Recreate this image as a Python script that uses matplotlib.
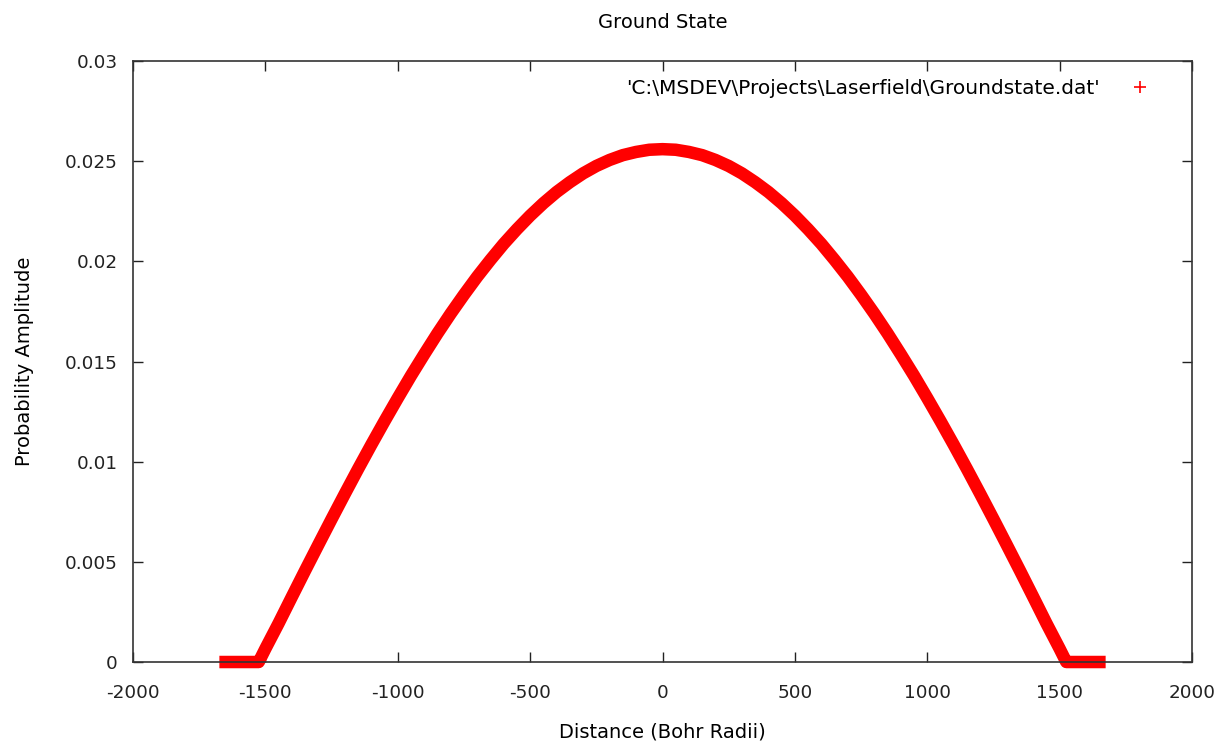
import matplotlib
matplotlib.use("Agg")
import matplotlib.pyplot as plt
from matplotlib.lines import Line2D

# Data
distance = [-1650, -1600, -1550, -1525, -1500, -1450, -1400, -1350, -1300, -1250,
            -1200, -1150, -1100, -1050, -1000, -950, -900, -850, -800, -750,
            -700, -650, -600, -550, -500, -450, -400, -350, -300, -250,
            -200, -150, -100, -50, 0, 50, 100, 150, 200, 250,
            300, 350, 400, 450, 500, 550, 600, 650, 700, 750,
            800, 850, 900, 950, 1000, 1050, 1100, 1150, 1200, 1250,
            1300, 1350, 1400, 1450, 1500, 1525, 1550, 1600, 1650]
amplitude = [0.0, 0.0, 0.0, 0.0, 0.00066, 0.00193, 0.00325, 0.00456, 0.00585, 0.00713,
             0.00839, 0.00963, 0.01084, 0.01202, 0.01317, 0.01429, 0.01536, 0.01640, 0.01739, 0.01833,
             0.01923, 0.02007, 0.02087, 0.02160, 0.02228, 0.02290, 0.02346, 0.02395, 0.02439, 0.02476,
             0.02506, 0.02530, 0.02546, 0.02557, 0.02560, 0.02557, 0.02546, 0.02530, 0.02506, 0.02476,
             0.02439, 0.02395, 0.02346, 0.02290, 0.02228, 0.02160, 0.02087, 0.02007, 0.01923, 0.01833,
             0.01739, 0.01640, 0.01536, 0.01429, 0.01317, 0.01202, 0.01084, 0.00963, 0.00839, 0.00713,
             0.00585, 0.00456, 0.00325, 0.00193, 0.00066, 0.0, 0.0, 0.0, 0.0]

x_ticks = [-2000, -1500, -1000, -500, 0, 500, 1000, 1500, 2000]
y_ticks = [0, 0.005, 0.01, 0.015, 0.02, 0.025, 0.03]
y_tick_labels = ["0", "0.005", "0.01", "0.015", "0.02", "0.025", "0.03"]

title = "Ground State"
x_label = "Distance (Bohr Radii)"
y_label = "Probability Amplitude"
series_label = "'C:\\MSDEV\\Projects\\Laserfield\\Groundstate.dat'"

plt.rcParams['font.family'] = ['DejaVu Sans']
fig = plt.figure(figsize=(12.22, 7.44), dpi=100)
ax = fig.add_axes([0.1088, 0.1102, 0.8667, 0.8078])

ax.plot(distance, amplitude, color='#ff0000', linewidth=9.0,
        solid_capstyle='projecting', solid_joinstyle='round', zorder=3,
        clip_on=False)

ax.set_xlim(-2000, 2000)
ax.set_ylim(0, 0.03)
ax.set_xticks(x_ticks)
ax.set_xticklabels([str(v) for v in x_ticks])
ax.set_yticks(y_ticks)
ax.set_yticklabels(y_tick_labels)

ax.tick_params(direction='in', length=7, width=1, top=True, right=True,
               labelsize=13.2, colors='#222222', pad=11)
ax.tick_params(axis='x', pad=15.5)
for s in ax.spines.values():
    s.set_linewidth(1.2)
    s.set_color('#333333')
    s.set_zorder(4)

ax.set_title(title, fontsize=14, pad=24)
ax.set_xlabel(x_label, fontsize=14, labelpad=15)
ax.set_ylabel(y_label, fontsize=14, labelpad=22)

handle = Line2D([], [], color='#ff0000', marker='+', linestyle='none',
                markersize=9, markeredgewidth=1.2)
ax.legend([handle], [series_label], loc='upper right', frameon=False,
          markerfirst=False, fontsize=14.5, bbox_to_anchor=(0.987, 1.0),
          handletextpad=1.0)

fig.savefig("out.png", dpi=100)
